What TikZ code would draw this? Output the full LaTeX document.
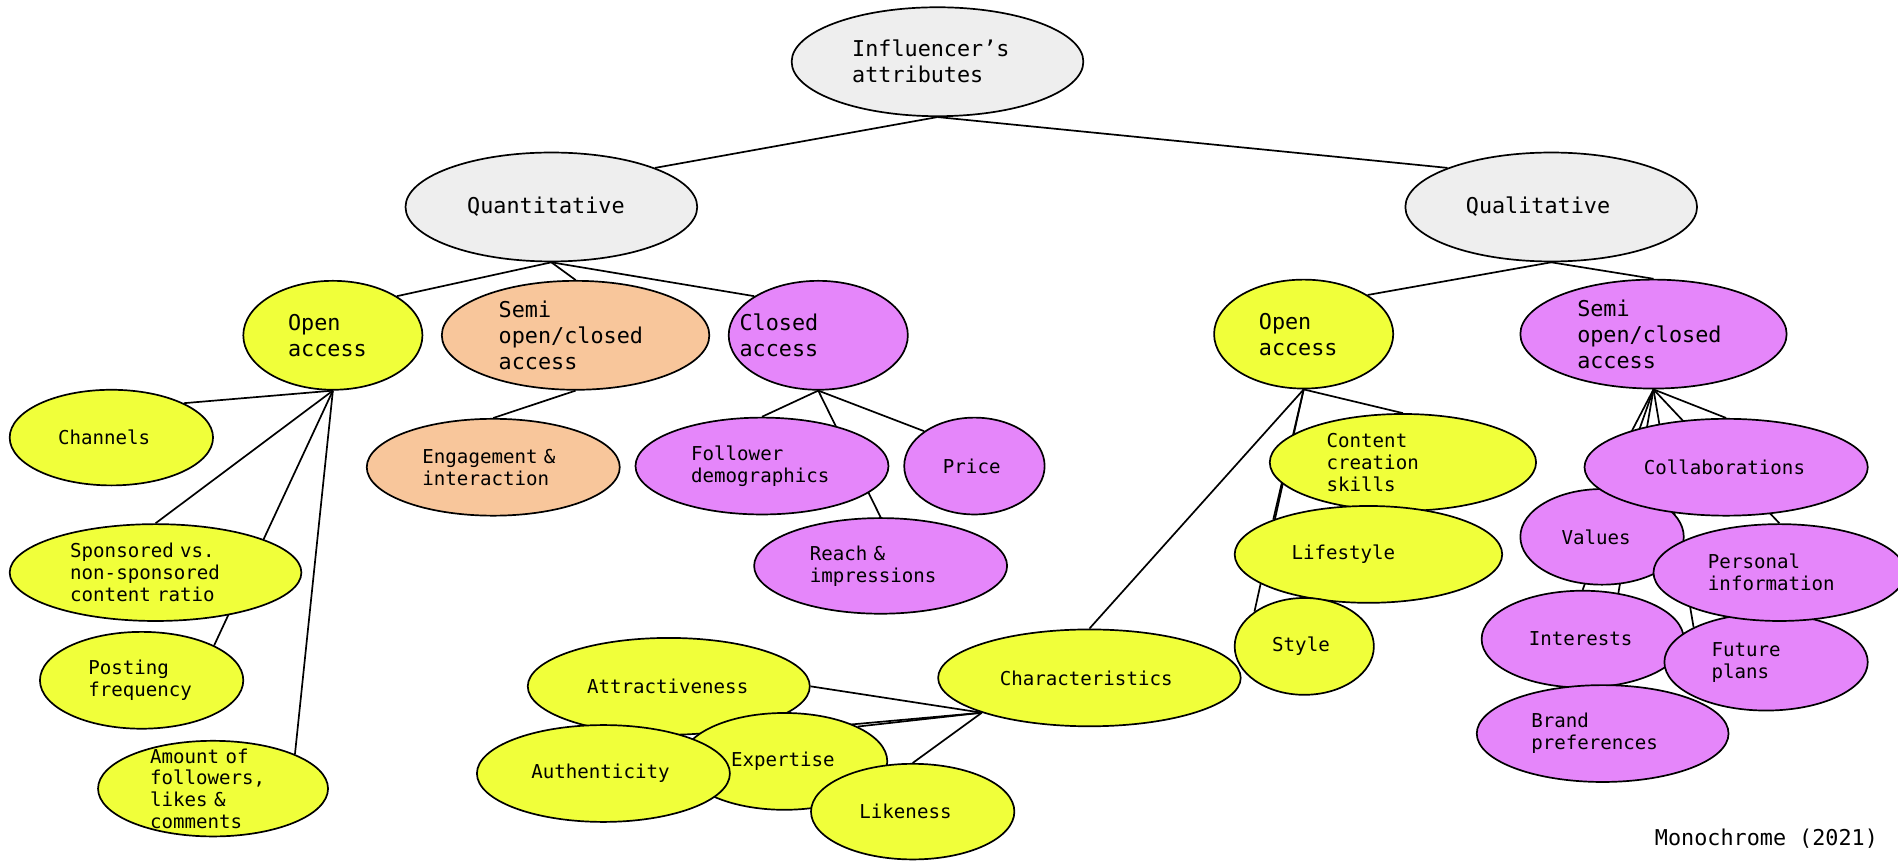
\documentclass[tikz,border=0pt]{standalone}
\usepackage{fontspec}
\newfontfamily\monof[WordSpace={1,0,0}]{DejaVu Sans Mono}
\usetikzlibrary{shapes.geometric,backgrounds}
\definecolor{yel}{RGB}{240,255,58}
\definecolor{pur}{RGB}{229,134,250}
\definecolor{ora}{RGB}{248,198,155}
\definecolor{gry}{RGB}{238,238,238}
\frenchspacing
\begin{document}
\begin{tikzpicture}[x=1pt,y=-1pt,
  ov/.style={ellipse,draw=black,line width=1.4pt,inner xsep=-20pt,inner ysep=-12pt,align=left},
  big/.style={font=\monof\fontsize{18}{21.5}\selectfont},
  sm/.style={font=\monof\fontsize{15.8}{18}\selectfont},
  edge/.style={line width=1.4pt,draw=black}]
\useasboundingbox (0,0) rectangle (1568,710.5);
% top levels
\node[ov,big,fill=gry,minimum width=241pt,minimum height=90pt,text width=141pt] (infl) at (774.5,51) {Influencer’s\\attributes};
\node[ov,big,fill=gry,minimum width=241pt,minimum height=90pt,text width=139pt] (quant) at (455.5,171) {Quantitative};
\node[ov,big,fill=gry,minimum width=241pt,minimum height=90pt,text width=141pt] (qual) at (1281.5,171) {Qualitative};
\node[ov,big,fill=yel,minimum width=148pt,minimum height=90pt,text width=74pt] (openL) at (275,277) {Open\\access};
\node[ov,big,fill=ora,minimum width=221pt,minimum height=90pt,text width=127pt] (semiL) at (475.5,277) {Semi\\open/closed\\access};
\node[ov,big,fill=pur,minimum width=148pt,minimum height=90pt,text width=130pt] (closed) at (676,277) {Closed\\access};
\node[ov,big,fill=yel,minimum width=148pt,minimum height=90pt,text width=74pt] (openR) at (1077,276) {Open\\access};
\node[ov,big,fill=pur,minimum width=220pt,minimum height=90pt,text width=126pt] (semiR) at (1366,276) {Semi\\open/closed\\access};
% quantitative leaves
\node[ov,sm,fill=yel,minimum width=168pt,minimum height=79pt,text width=88pt] (channels) at (92,361.5) {Channels};
\node[ov,sm,fill=yel,minimum width=241pt,minimum height=80pt,text width=141pt] (sponsored) at (128.5,473) {Sponsored vs.\\non-sponsored\\content ratio};
\node[ov,sm,fill=yel,minimum width=168pt,minimum height=80pt,text width=88pt] (posting) at (117,562) {Posting\\frequency};
\node[ov,sm,fill=yel,minimum width=190pt,minimum height=79pt,text width=104pt] (amount) at (176,651.5) {Amount of\\followers,\\likes \&\\comments};
\node[ov,sm,fill=ora,minimum width=209pt,minimum height=80pt,text width=117pt] (engagement) at (407.5,386) {Engagement \&\\interaction};
\node[ov,sm,fill=pur,minimum width=209pt,minimum height=80pt,text width=117pt] (follower) at (629.5,385) {Follower\\demographics};
\node[ov,sm,fill=pur,minimum width=116pt,minimum height=80pt,text width=52pt] (price) at (805,385) {Price};
\node[ov,sm,fill=pur,minimum width=209pt,minimum height=79pt,text width=117pt] (reach) at (727.5,467.5) {Reach \&\\impressions};
% characteristics
\node[ov,sm,fill=yel,minimum width=233pt,minimum height=80pt,text width=135pt] (attract) at (552.5,567) {Attractiveness};
\node[ov,sm,fill=yel,minimum width=170pt,minimum height=80pt,text width=88pt] (expertise) at (648,629) {Expertise};
\node[ov,sm,fill=yel,minimum width=209pt,minimum height=80pt,text width=119pt] (authenticity) at (498.5,639) {Authenticity};
\node[ov,sm,fill=yel,minimum width=168pt,minimum height=79pt,text width=88pt] (likeness) at (754,670.5) {Likeness};
\node[ov,sm,fill=yel,minimum width=250pt,minimum height=80pt,text width=148pt] (charac) at (900,560) {Characteristics};
% open access right
\node[ov,sm,fill=yel,minimum width=220pt,minimum height=80pt,text width=126pt] (content) at (1159,382) {Content\\creation\\skills};
\node[ov,sm,fill=yel,minimum width=221pt,minimum height=80pt,text width=127pt] (lifestyle) at (1130.5,458) {Lifestyle};
\node[ov,sm,fill=yel,minimum width=115pt,minimum height=80pt,text width=53pt] (style) at (1077.5,534) {Style};
% semi right
\node[ov,sm,fill=pur,minimum width=135pt,minimum height=79pt,text width=67pt] (values) at (1323.5,443.5) {Values};
\node[ov,sm,fill=pur,minimum width=167pt,minimum height=80pt,text width=89pt] (interests) at (1307.5,528) {Interests};
\node[ov,sm,fill=pur,minimum width=168pt,minimum height=80pt,text width=90pt] (future) at (1459,547) {Future\\plans};
\node[ov,sm,fill=pur,minimum width=208pt,minimum height=80pt,text width=118pt] (brand) at (1324,606) {Brand\\preferences};
\node[ov,sm,fill=pur,minimum width=234pt,minimum height=80pt,text width=136pt] (collab) at (1426,386) {Collaborations};
\node[ov,sm,fill=pur,minimum width=208pt,minimum height=80pt,text width=118pt] (personal) at (1470,473) {Personal\\information};
% caption
\node[big,anchor=base west,inner sep=0pt] (credit) at (1367,698.5) {Monochrome (2021)};
\begin{pgfonlayer}{background}
\fill[white] (0,0) rectangle (1568,710.5);
\draw[edge] (infl.south) -- (quant.north east);
\draw[edge] (infl.south) -- (qual.north west);
\draw[edge] (quant.south) -- (openL.north east);
\draw[edge] (quant.south) -- (semiL.north);
\draw[edge] (quant.south) -- (closed.north west);
\draw[edge] (qual.south) -- (openR.north east);
\draw[edge] (qual.south) -- (semiR.north);
\draw[edge] (openL.south) -- (channels.north east);
\draw[edge] (openL.south) -- (sponsored.north);
\draw[edge] (openL.south) -- (posting.north east);
\draw[edge] (openL.south) -- (amount.north east);
\draw[edge] (semiL.south) -- (engagement.north);
\draw[edge] (closed.south) -- (follower.north);
\draw[edge] (closed.south) -- (reach.north);
\draw[edge] (closed.south) -- (price.north west);
\draw[edge] (openR.south) -- (content.north);
\draw[edge] (openR.south) -- (lifestyle.north west);
\draw[edge] (openR.south) -- (style.north west);
\draw[edge] (openR.south) -- (charac.north);
\draw[edge] (charac.south west) -- (attract.east);
\draw[edge] (charac.south west) -- (expertise.north east);
\draw[edge] (charac.south west) -- (authenticity.north east);
\draw[edge] (charac.south west) -- (likeness.north);
\draw[edge] (semiR.south) -- (collab.north);
\draw[edge] (semiR.south) -- (personal.north);
\draw[edge] (semiR.south) -- (future.north west);
\draw[edge] (semiR.south) -- (values.north);
\draw[edge] (semiR.south) -- (interests.north);
\draw[edge] (semiR.south) -- (brand.north);
\end{pgfonlayer}
\end{tikzpicture}
\end{document}
